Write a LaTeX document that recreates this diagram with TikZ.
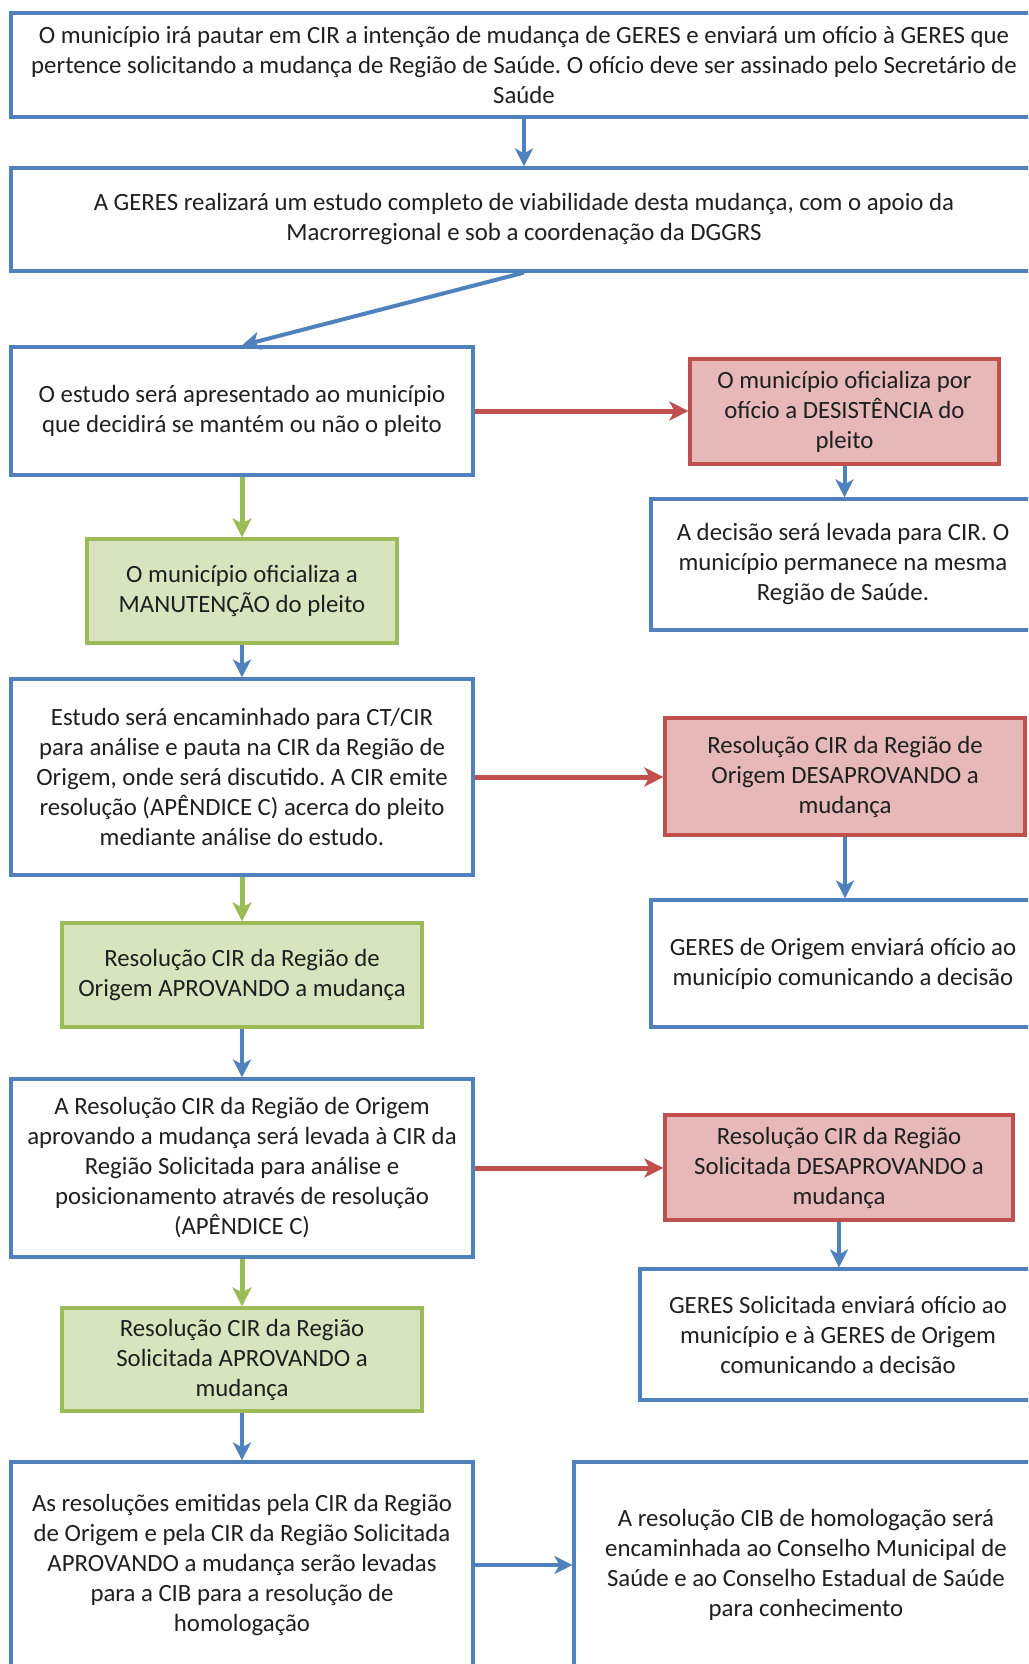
\documentclass[tikz,border=0pt]{standalone}
\usepackage{fontspec}
\setmainfont{Carlito}
\frenchspacing
\usetikzlibrary{arrows.meta}
\definecolor{bblue}{HTML}{4F81BD}
\definecolor{rborder}{HTML}{C0504D}
\definecolor{rfill}{HTML}{E6B9B8}
\definecolor{gborder}{HTML}{9BBB59}
\definecolor{gfill}{HTML}{D7E4BD}
\definecolor{txt}{HTML}{1F1F1F}
\tikzset{
  box/.style={draw=bblue, fill=white, line width=3.2pt, align=center, inner sep=0pt,
    text=txt, font=\fontsize{24.8}{30}\selectfont},
  wbox/.style={box},
  rbox/.style={box, draw=rborder, fill=rfill},
  gbox/.style={box, draw=gborder, fill=gfill},
  barrow/.style={draw=bblue, line width=4pt, -{Stealth[length=18pt,width=18pt,inset=5pt]}},
  rarrow/.style={draw=rborder, line width=5pt, -{Stealth[length=19pt,width=19pt,inset=5pt]}},
  garrow/.style={draw=gborder, line width=5pt, -{Stealth[length=19pt,width=19pt,inset=5pt]}},
}
\begin{document}
\begin{tikzpicture}[x=1pt,y=-1pt]
\useasboundingbox (0,0) rectangle (1028,1664);
\fill[white] (0,0) rectangle (1028,1664);
\begin{scope}
\clip (0,0) rectangle (1028,1664);
\node[wbox, minimum width=1026pt, minimum height=104pt] (b1) at (524,65)
 {O município irá pautar em CIR a intenção de mudança de GERES e enviará um ofício à GERES que\\
  pertence solicitando a mudança de Região de Saúde. O ofício deve ser assinado pelo Secretário de\\
  Saúde};
\node[wbox, minimum width=1026pt, minimum height=103pt] (b2) at (524,219.5)
 {A GERES realizará um estudo completo de viabilidade desta mudança, com o apoio da\\
  Macrorregional e sob a coordenação da DGGRS};
\node[wbox, minimum width=462pt, minimum height=128pt] (b3) at (242,411)
 {O estudo será apresentado ao município\\ que decidirá se mantém ou não o pleito};
\node[rbox, minimum width=309pt, minimum height=105pt] (r1) at (844.5,411.5)
 {O município oficializa por\\ ofício a DESISTÊNCIA do\\ pleito};
\node[wbox, minimum width=384pt, minimum height=131pt] (b4) at (843,564.5)
 {A decisão será levada para CIR. O\\ município permanece na mesma\\ Região de Saúde.};
\node[gbox, minimum width=310pt, minimum height=104pt] (g1) at (242,591)
 {O município oficializa a\\ MANUTENÇÃO do pleito};
\node[wbox, minimum width=462pt, minimum height=196pt] (b5) at (242,777)
 {Estudo será encaminhado para CT/CIR\\ para análise e pauta na CIR da Região de\\ Origem, onde será discutido. A CIR emite\\ resolução (APÊNDICE C) acerca do pleito\\ mediante análise do estudo.};
\node[rbox, minimum width=360pt, minimum height=117pt] (r2) at (845,776.5)
 {Resolução CIR da Região de\\ Origem DESAPROVANDO a\\ mudança};
\node[wbox, minimum width=384pt, minimum height=127pt] (b6) at (843,963.5)
 {GERES de Origem enviará ofício ao\\ município comunicando a decisão};
\node[gbox, minimum width=360pt, minimum height=104pt] (g2) at (242,975)
 {Resolução CIR da Região de\\ Origem APROVANDO a mudança};
\node[wbox, minimum width=462pt, minimum height=178pt] (b7) at (242,1168)
 {A Resolução CIR da Região de Origem\\ aprovando a mudança será levada à CIR da\\ Região Solicitada para análise e\\ posicionamento através de resolução\\ (APÊNDICE C)};
\node[rbox, minimum width=348pt, minimum height=105pt] (r3) at (839,1167.5)
 {Resolução CIR da Região\\ Solicitada DESAPROVANDO a\\ mudança};
\node[wbox, minimum width=396pt, minimum height=131pt] (b8) at (838,1334.5)
 {GERES Solicitada enviará ofício ao\\ município e à GERES de Origem\\ comunicando a decisão};
\node[gbox, minimum width=360pt, minimum height=103pt] (g3) at (242,1359.5)
 {Resolução CIR da Região\\ Solicitada APROVANDO a\\ mudança};
\node[wbox, minimum width=462pt, minimum height=206pt] (b9) at (242,1565)
 {As resoluções emitidas pela CIR da Região\\ de Origem e pela CIR da Região Solicitada\\ APROVANDO a mudança serão levadas\\ para a CIB para a resolução de\\ homologação};
\node[wbox, minimum width=464pt, minimum height=206pt] (b10) at (806,1565)
 {A resolução CIB de homologação será\\ encaminhada ao Conselho Municipal de\\ Saúde e ao Conselho Estadual de Saúde\\ para conhecimento};
\end{scope}
% connectors
\draw[barrow] (b1.south) -- (b2.north);
\draw[barrow] (b2.south) -- (b3.north);
\draw[rarrow] (b3.east) -- (b3.east -| r1.west);
\draw[barrow] (r1.south) -- (r1.south |- b4.north);
\draw[garrow] (b3.south) -- (g1.north);
\draw[barrow] (g1.south) -- (b5.north);
\draw[rarrow] (b5.east) -- (b5.east -| r2.west);
\draw[barrow] (r2.south) -- (r2.south |- b6.north);
\draw[garrow] (b5.south) -- (g2.north);
\draw[barrow] (g2.south) -- (b7.north);
\draw[rarrow] (b7.east) -- (b7.east -| r3.west);
\draw[barrow] (r3.south) -- (r3.south |- b8.north);
\draw[garrow] (b7.south) -- (g3.north);
\draw[barrow] (g3.south) -- (b9.north);
\draw[barrow] (b9.east) -- (b10.west);
\end{tikzpicture}
\end{document}
